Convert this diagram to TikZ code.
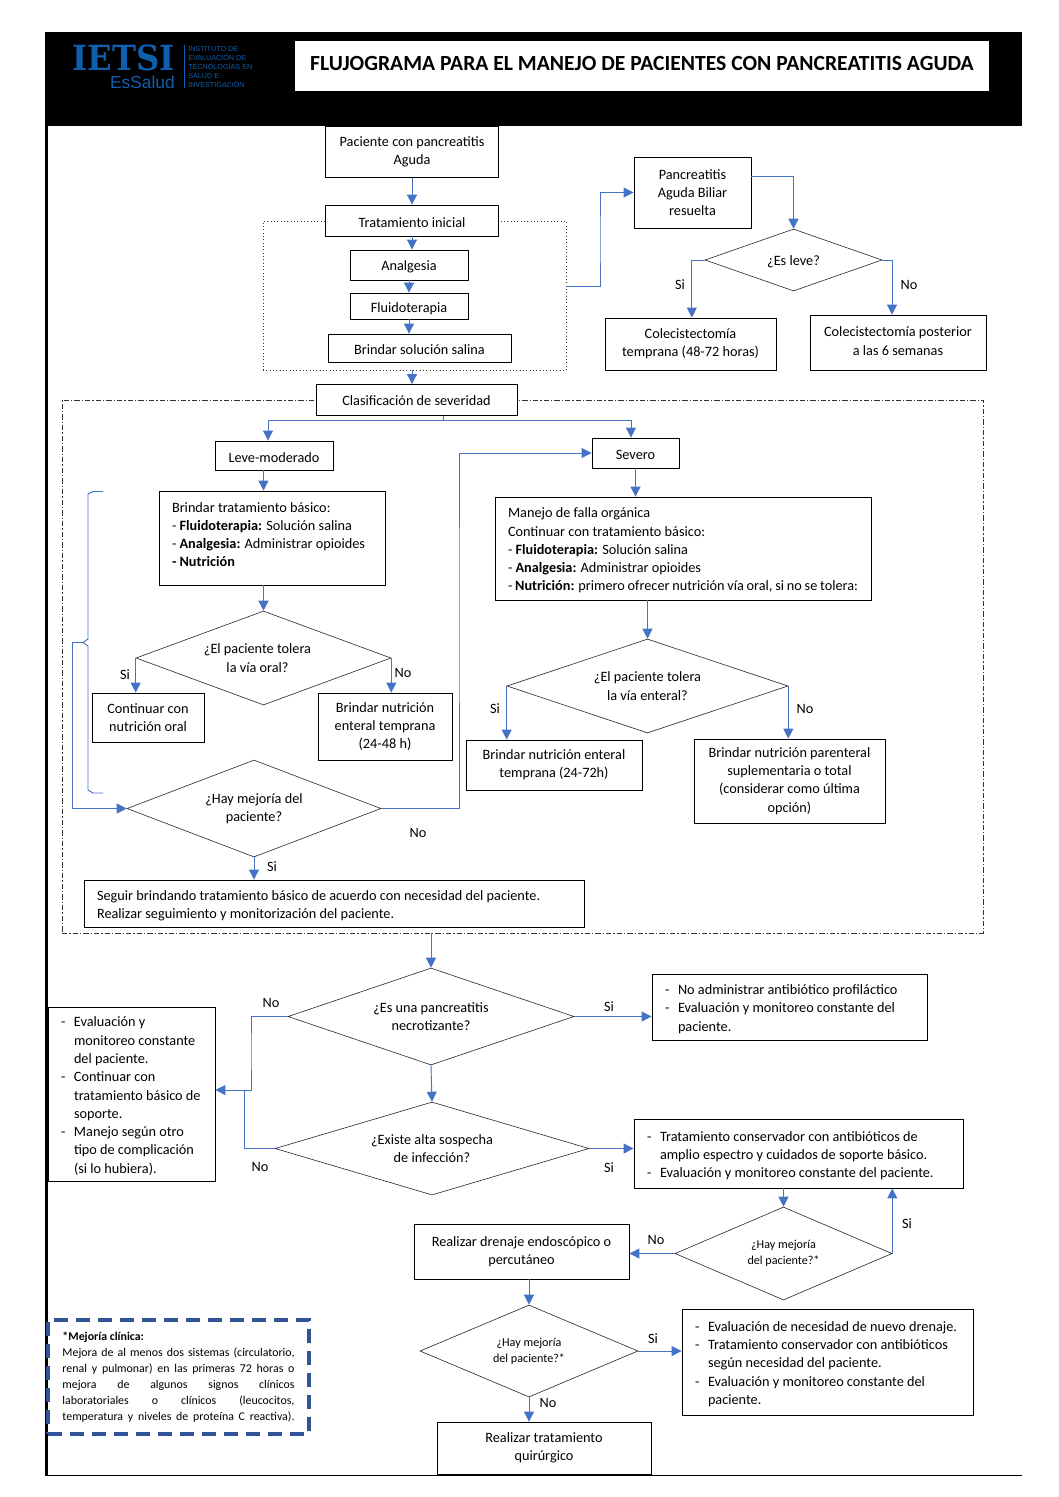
\documentclass[tikz,border=0pt]{standalone}
\usepackage{fontspec}
\setmainfont{Carlito}
\newfontfamily\logoserif{DejaVu Serif}
\newfontfamily\logosans{Liberation Sans}
\usetikzlibrary{shapes.geometric,arrows.meta}

\definecolor{azulflecha}{HTML}{4472C4}
\definecolor{azullogo}{HTML}{0F5FAE}
\definecolor{azulnota}{HTML}{2F5597}

\newcommand{\guion}{\makebox[9.75pt][l]{-}}
\newcommand{\sangria}{\hspace*{9.75pt}}
\newcommand{\lineaj}[1]{\makebox[174pt][s]{#1}}

\tikzset{
    letra/.style={font=\fontsize{10.7}{13.7}\selectfont, execute at begin node={\spaceskip=0pt\xspaceskip=0pt\rule{0pt}{10.5pt}}},
    caja/.style={draw=black, line width=0.65pt, fill=white, letra, align=center, inner sep=0pt},
    bx/.style 2 args={minimum width=#1*0.75pt, minimum height=#2*0.75pt},
    cajaizq/.style 2 args={draw=black, line width=0.65pt, fill=white, letra, align=left,
        inner xsep=9.75pt, inner ysep=0pt, text width=#1*0.75pt-19.5pt, minimum height=#2*0.75pt},
    decision/.style 2 args={diamond, aspect=3, draw=black!85, line width=0.45pt, fill=white, letra,
        align=center, inner sep=0pt, minimum width=#1*0.75pt, minimum height=#2*0.75pt},
    flecha/.style={draw=azulflecha, line width=0.7pt, -{Triangle[length=7.5pt,width=7.5pt]}},
    conector/.style={draw=azulflecha, line width=0.7pt},
    rotulo/.style={font=\fontsize{10.7}{13.7}\selectfont, inner sep=0pt},
    punteado/.style={draw=black!80, line width=0.5pt, dotted},
    rayapunto/.style={draw=black!80, line width=0.5pt, dash pattern=on 4pt off 1.5pt on 1pt off 1.5pt}
}

\begin{document}
\begin{tikzpicture}[x=0.75pt, y=-0.75pt]
    \useasboundingbox[fill=white] (0,0) rectangle (1058,1497);

    \fill[black] (45,32) rectangle (1022,126);
    \fill[black] (45,126) rectangle (48,1476);
    \fill[black] (45,1475) rectangle (1022,1476);

    \node[fill=white, minimum width=520.5pt, minimum height=37.5pt, inner sep=0pt, font=\fontsize{16.2}{18}\selectfont\bfseries] (titulo) at (642,66)
        {\raisebox{4.5pt}{FLUJOGRAMA PARA EL MANEJO DE PACIENTES CON PANCREATITIS AGUDA}};
    \node[text=azullogo, inner sep=0pt, font=\fontsize{26}{26}\logoserif\bfseries] (ietsi) at (123.5,57.5) {\scalebox{0.93}[1]{IETSI}};
    \node[text=azullogo, inner sep=0pt, anchor=east, font=\fontsize{13}{15}\logosans] (essalud) at (175,82.5) {EsSalud};
    \draw[azullogo, line width=0.6pt] (184,45) -- (184,88);
    \node[text=azullogo, inner sep=0pt, anchor=west, align=left, font=\fontsize{5.4}{6.6}\logosans] (instituto) at (188,67)
        {INSTITUTO DE\\EVALUACIÓN DE\\TECNOLOGÍAS EN\\SALUD E\\INVESTIGACIÓN};

    \node[punteado, minimum width=227.25pt, minimum height=111.75pt, inner sep=0pt] (cajainicial) at (414.5,295.5) {};
    \node[rayapunto, minimum width=690.75pt, minimum height=399.75pt, inner sep=0pt] (cajasevera) at (522.5,666.5) {};

    \node[caja, bx={173}{51}] (paciente) at (412,152) {Paciente con pancreatitis\\Aguda};
    \node[caja, bx={173}{31}] (tratamiento) at (412,220.5) {Tratamiento inicial};
    \node[caja, bx={118}{30}] (analgesia) at (409,265) {Analgesia};
    \node[caja, bx={118}{26}] (fluido) at (409,306) {\raisebox{-1.5pt}{Fluidoterapia}};
    \node[caja, bx={183}{28}] (salina) at (419.5,348) {Brindar solución salina};
    \node[caja, bx={201}{31}] (clasif) at (416.5,400) {\raisebox{1pt}{Clasificación de severidad}};

    \node[caja, bx={117}{71}] (biliar) at (692.5,192.5) {Pancreatitis\\Aguda Biliar\\resuelta};
    \node[decision={177}{62}] (esleve) at (793.5,260) {¿Es leve?};
    \node[caja, bx={171}{52}] (coltemprana) at (690.5,344) {Colecistectomía\\temprana (48-72 horas)};
    \node[caja, bx={176}{55}] (colposterior) at (898,342.5) {\raisebox{2pt}{Colecistectomía posterior}\\\raisebox{2pt}{a las 6 semanas}};

    \node[caja, bx={118}{29}] (levemod) at (274,455.5) {Leve-moderado};
    \node[caja, bx={87}{30}] (severo) at (635.5,453) {Severo};

    \node[cajaizq={226}{94}] (brindar) at (272,538) {Brindar tratamiento básico:\\
        - \textbf{Fluidoterapia:} Solución salina\\
        - \textbf{Analgesia:} Administrar opioides\\
        \textbf{- Nutrición}\\[-5.5pt]\mbox{}};
    \node[decision={255}{94}] (tolera) at (263.5,658) {¿El paciente tolera\hspace*{9pt}\\la vía oral?\hspace*{9pt}};
    \node[caja, bx={112}{49}] (continuar) at (148,717.5) {Continuar con\\nutrición oral};
    \node[caja, bx={134}{67}] (enteral) at (385,726.5) {Brindar nutrición\\enteral temprana\\(24-48 h)};
    \node[decision={254}{97}] (mejoria) at (254,808.5) {¿Hay mejoría del\\paciente?};
    \node[cajaizq={500}{47}] (seguir) at (334,903.5) {Seguir brindando tratamiento básico de acuerdo con necesidad del paciente.\\
        Realizar seguimiento y monitorización del paciente.};

    \node[cajaizq={376}{103}] (manejo) at (683,548.5) {Manejo de falla orgánica\\
        Continuar con tratamiento básico:\\
        - \textbf{Fluidoterapia:} Solución salina\\
        - \textbf{Analgesia:} Administrar opioides\\
        - \textbf{Nutrición:} primero ofrecer nutrición vía oral, si no se tolera:};
    \node[decision={281}{94}] (toleraent) at (647.5,686) {¿El paciente tolera\\la vía enteral?};
    \node[caja, bx={176}{50}] (enteraltemp) at (554,765) {Brindar nutrición enteral\\temprana (24-72h)};
    \node[caja, bx={191}{84}] (parenteral) at (789.5,781) {Brindar nutrición parenteral\\suplementaria o total\\(considerar como última\\opción)};

    \node[decision={286}{97}] (necro) at (431,1016.5) {¿Es una pancreatitis\\necrotizante?};
    \node[cajaizq={275}{66}] (noadmin) at (789.5,1007) {\guion No administrar antibiótico profiláctico\\
        \guion Evaluación y monitoreo constante del\\
        \sangria paciente.};
    \node[cajaizq={167}{174}] (evalizq) at (131.5,1094) {\guion Evaluación y\\
        \sangria monitoreo constante\\
        \sangria del paciente.\\
        \guion Continuar con\\
        \sangria tratamiento básico de\\
        \sangria soporte.\\
        \guion Manejo según otro\\
        \sangria tipo de complicación\\
        \sangria (si lo hubiera).};
    \node[decision={314}{93}] (sospecha) at (432,1148.5) {¿Existe alta sospecha\\de infección?};
    \node[cajaizq={329}{69}] (conservador) at (798.5,1153.5) {\guion Tratamiento conservador con antibióticos de\\
        \sangria amplio espectro y cuidados de soporte básico.\\
        \guion Evaluación y monitoreo constante del paciente.};
    \node[decision={217}{93}, font=\fontsize{9.1}{12}\selectfont] (mejoriados) at (783.5,1253.5) {¿Hay mejoría\\del paciente?*};
    \node[caja, bx={215}{55}] (drenaje) at (521.5,1251.5) {Realizar drenaje endoscópico o\\percutáneo};
    \node[decision={218}{92}, font=\fontsize{9.1}{12}\selectfont] (mejoriatres) at (529,1351) {¿Hay mejoría\\del paciente?*};
    \node[cajaizq={291}{106}] (nuevodren) at (827.5,1362) {\guion Evaluación de necesidad de nuevo drenaje.\\
        \guion Tratamiento conservador con antibióticos\\
        \sangria según necesidad del paciente.\\
        \guion Evaluación y monitoreo constante del\\
        \sangria paciente.};
    \node[caja, bx={214}{52}] (quirurgico) at (544,1448) {Realizar tratamiento\\quirúrgico};

    \node[draw=azulnota, line width=2.6pt, dash pattern=on 10.5pt off 6pt, minimum width=195.75pt, minimum height=85.5pt, inner sep=0pt,
        align=left, font=\fontsize{8.9}{12}\selectfont] (nota) at (178.5,1377) {\textbf{*Mejoría clínica:}\\
        \lineaj{Mejora de al menos dos sistemas (circulatorio,}\\
        \lineaj{renal y pulmonar) en las primeras 72 horas o}\\
        \lineaj{mejora de algunos signos clínicos}\\
        \lineaj{laboratoriales o clínicos (leucocitos,}\\
        \lineaj{temperatura y niveles de proteína C reactiva).}};

    \coordinate (salinicial) at (566,286);
    \coordinate (codoinicial) at (600,240);
    \coordinate (salbiliar) at (751,176);
    \coordinate (ramal) at (443,420);
    \coordinate (codomejoria) at (459,600);
    \coordinate (llavepunta) at (83,642.5);
    \coordinate (llavesal) at (72,642.5);
    \coordinate (codonecro) at (251,1050);
    \coordinate (union) at (244,1090);

    \draw[flecha] (paciente.south) -- (tratamiento.north);
    \draw[flecha] (tratamiento.south) -- (tratamiento.south |- analgesia.north);
    \draw[flecha] (analgesia.south) -- (fluido.north);
    \draw[flecha] (fluido.south) -- (fluido.south |- salina.north);
    \draw[flecha] (tratamiento.south |- cajainicial.south) -- (tratamiento.south |- clasif.north);
    \draw[flecha] (salinicial) -| (codoinicial) |- (biliar.west);
    \draw[flecha] (salbiliar) -| (esleve.north);
    \draw[flecha] (esleve.west) -| ([xshift=1pt]coltemprana.north);
    \draw[flecha] (esleve.east) -| ([xshift=-4.5pt]colposterior.north);

    \draw[conector] (ramal |- clasif.south) -- (ramal);
    \draw[flecha] (ramal) -| ([xshift=-4.5pt]levemod.north);
    \draw[flecha] (ramal) -| ([xshift=-3.4pt]severo.north);
    \draw[flecha] (tolera.north |- levemod.south) -- (tolera.north |- brindar.north);
    \draw[flecha] (tolera.north |- brindar.south) -- (tolera.north);
    \draw[flecha] (tolera.west) -- (tolera.west |- continuar.north);
    \draw[flecha] (tolera.east) -- (tolera.east |- enteral.north);
    \draw[flecha] (mejoria.south) -- (mejoria.south |- seguir.north);
    \draw[flecha] (mejoria.east) -| (codomejoria) |- (severo.west);
    \draw[conector] (103,491.5) -- (93,491.5) -- (88,494) -- (88,639) -- (llavepunta) -- (88,646) -- (88,790) -- (93,793) -- (103,793);
    \draw[conector] (llavepunta) -- (llavesal);
    \draw[flecha] (llavesal) |- (mejoria.west);

    \draw[flecha] (severo.south) -- (severo.south |- manejo.north);
    \draw[flecha] (toleraent.north |- manejo.south) -- (toleraent.north);
    \draw[flecha] (toleraent.west) -- (toleraent.west |- enteraltemp.north);
    \draw[flecha] (toleraent.east) -- (toleraent.east |- parenteral.north);

    \draw[flecha] (necro.north |- cajasevera.south) -- (necro.north);
    \draw[flecha] (necro.east) -- (necro.east -| noadmin.west);
    \draw[flecha] (necro.south) -- (sospecha.north);
    \draw[flecha] (necro.west) -| (codonecro) |- ([yshift=3pt]evalizq.east);
    \draw[conector] (sospecha.west) -| (union);
    \draw[flecha] (sospecha.east) -- (sospecha.east -| conservador.west);
    \draw[flecha] (mejoriados.north |- conservador.south) -- (mejoriados.north);
    \draw[flecha] (mejoriados.east) -- (mejoriados.east |- conservador.south);
    \draw[flecha] (mejoriados.west) -- (mejoriados.west -| drenaje.east);
    \draw[flecha] (mejoriatres.north |- drenaje.south) -- (mejoriatres.north);
    \draw[flecha] (mejoriatres.east) -- (mejoriatres.east -| nuevodren.west);
    \draw[flecha] (mejoriatres.south) -- (mejoriatres.south |- quirurgico.north);

    \node[rotulo] (si1) at (680,285) {Si};
    \node[rotulo] (no1) at (909,285) {No};
    \node[rotulo] (si2) at (125,675) {Si};
    \node[rotulo] (no2) at (403,673) {No};
    \node[rotulo] (no3) at (418,833) {No};
    \node[rotulo] (si3) at (272,867) {Si};
    \node[rotulo] (si4) at (495,709) {Si};
    \node[rotulo] (no4) at (805,709) {No};
    \node[rotulo] (no5) at (271,1003) {No};
    \node[rotulo] (si5) at (609,1007) {Si};
    \node[rotulo] (no6) at (260,1167) {No};
    \node[rotulo] (si6) at (609,1168) {Si};
    \node[rotulo] (si7) at (907,1224) {Si};
    \node[rotulo] (no7) at (656,1240) {No};
    \node[rotulo] (si8) at (653,1339) {Si};
    \node[rotulo] (no8) at (548,1403) {No};
\end{tikzpicture}
\end{document}
